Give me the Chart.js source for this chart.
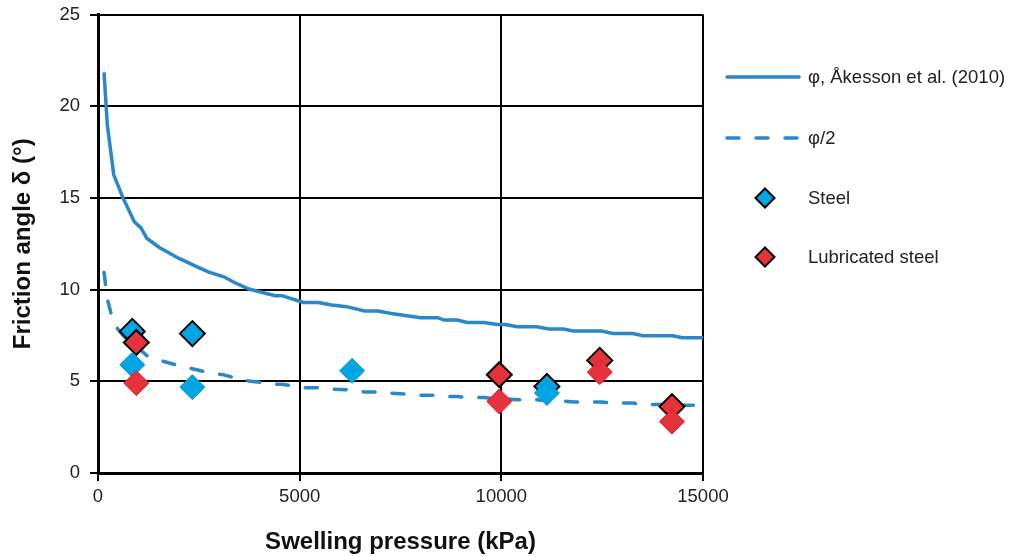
<!DOCTYPE html>
<html>
<head>
<meta charset="utf-8">
<script src="https://cdn.jsdelivr.net/npm/chart.js@4"></script>
<style>
  body { margin: 0; background: #fff; }
  #wrap { position: relative; width: 1010px; height: 557px; }
</style>
</head>
<body>
<div id="wrap"><canvas id="frictionChart"></canvas></div>
<script>
/* -------- DATA -------- */
const pressureCurve = [150, 230, 390, 620, 900, 1070, 1210, 1520, 2010, 2500, 2750, 3120, 3370, 3740,
  4390, 4560, 5090, 5460, 5790, 6160, 6610, 6940, 7270, 8000, 8420, 8580, 8910, 9150, 9570,
  9890, 10100, 10390, 10880, 11170, 11540, 11780, 12480, 12770, 13260, 13510, 14250, 14490, 15000];
const phiValues = [21.85, 19.0, 16.26, 15.0, 13.7, 13.35, 12.8, 12.3, 11.7, 11.2, 10.95, 10.7, 10.4, 10.03,
  9.67, 9.67, 9.3, 9.3, 9.16, 9.07, 8.83, 8.83, 8.7, 8.47, 8.47, 8.34, 8.34, 8.21, 8.21,
  8.1, 8.1, 7.97, 7.97, 7.85, 7.85, 7.74, 7.74, 7.61, 7.61, 7.48, 7.48, 7.37, 7.37];
const phiHalfValues = [10.93, 9.5, 8.13, 7.5, 6.85, 6.68, 6.4, 6.15, 5.85, 5.6, 5.48, 5.35, 5.2, 5.02,
  4.84, 4.84, 4.65, 4.65, 4.58, 4.54, 4.42, 4.42, 4.35, 4.24, 4.24, 4.17, 4.17, 4.11, 4.11,
  4.05, 4.05, 3.99, 3.99, 3.93, 3.93, 3.87, 3.87, 3.81, 3.81, 3.74, 3.74, 3.69, 3.69];

// Steel: outlined markers and plain markers
const steelOutP = [850, 2340, 11130];
const steelOutV = [7.72, 7.6, 4.72];
const steelP = [850, 2340, 6300, 11130];
const steelV = [5.9, 4.68, 5.57, 4.36];
// Lubricated steel
const lubOutP = [950, 9950, 12440, 14230];
const lubOutV = [7.12, 5.36, 6.14, 3.62];
const lubP = [950, 9950, 12440, 14230];
const lubV = [4.9, 3.9, 5.5, 2.8];

const xTicks = [0, 5000, 10000, 15000];
const yTicks = [0, 5, 10, 15, 20, 25];

const seriesLabels = ["φ, Åkesson et al. (2010)", "φ/2", "Steel", "Lubricated steel"];

/* -------- helpers -------- */
const pts = (xs, ys) => xs.map((x, i) => ({x: x, y: ys[i]}));
const BLUE_LINE = "#2a87c9";
const STEEL = "#00a5e3";
const LUB = "#e5323b";
const FONT = "'Liberation Sans', Arial, sans-serif";

/* -------- custom legend drawn to the right -------- */
const sideLegend = {
  id: 'sideLegend',
  afterDraw(chart) {
    const ctx = chart.ctx;
    const rows = [77, 138, 198, 257];
    ctx.save();
    rows.forEach((y, i) => {
      if (i < 2) {
        ctx.strokeStyle = BLUE_LINE;
        ctx.lineWidth = 3.5;
        ctx.lineCap = 'round';
        ctx.setLineDash(i === 1 ? [12, 17] : []);
        ctx.beginPath();
        ctx.moveTo(727, y);
        ctx.lineTo(799, y);
        ctx.stroke();
        ctx.setLineDash([]);
      } else {
        const r = 9.5;
        ctx.beginPath();
        ctx.moveTo(765, y - r);
        ctx.lineTo(765 + r, y);
        ctx.lineTo(765, y + r);
        ctx.lineTo(765 - r, y);
        ctx.closePath();
        ctx.fillStyle = i === 2 ? STEEL : LUB;
        ctx.fill();
        ctx.lineWidth = 2;
        ctx.strokeStyle = "#000";
        ctx.stroke();
      }
      ctx.fillStyle = "#222";
      ctx.font = "18.5px " + FONT;
      ctx.textBaseline = 'middle';
      ctx.textAlign = 'left';
      ctx.fillText(seriesLabels[i], 808, y + 1);
    });
    ctx.restore();
  }
};

const diamond = (fill, border, bw, order, data) => ({
  type: 'scatter',
  data: data,
  pointStyle: 'rectRot',
  pointRadius: 12.5,
  pointHoverRadius: 12.5,
  backgroundColor: fill,
  borderColor: border,
  borderWidth: bw,
  order: order,
  showLine: false
});

new Chart(document.getElementById("frictionChart"), {
  type: 'scatter',
  data: {
    datasets: [
      {
        type: 'line', label: seriesLabels[0], data: pts(pressureCurve, phiValues),
        borderColor: BLUE_LINE, borderWidth: 3.5, pointRadius: 0, tension: 0,
        fill: false, order: 6
      },
      {
        type: 'line', label: seriesLabels[1], data: pts(pressureCurve, phiHalfValues),
        borderColor: BLUE_LINE, borderWidth: 3.5, borderDash: [12, 17], borderCapStyle: 'round',
        pointRadius: 0, tension: 0, fill: false, order: 5
      },
      Object.assign({label: seriesLabels[2]}, diamond(STEEL, "#000", 2, 4, pts(steelOutP, steelOutV))),
      Object.assign({label: seriesLabels[3]}, diamond(LUB, "#000", 2, 3, pts(lubOutP, lubOutV))),
      Object.assign({label: seriesLabels[2]}, diamond(STEEL, "#1592d2", 1, 2, pts(steelP, steelV))),
      Object.assign({label: seriesLabels[3]}, diamond(LUB, "#d81f2a", 1, 1, pts(lubP, lubV)))
    ]
  },
  options: {
    responsive: true,
    maintainAspectRatio: false,
    animation: false,
    layout: { padding: { left: 0, right: 307, top: 14, bottom: 0 } },
    plugins: {
      legend: { display: false },
      tooltip: { enabled: false }
    },
    scales: {
      x: {
        type: 'linear', min: 0, max: 15000,
        afterBuildTicks: s => { s.ticks = xTicks.map(v => ({value: v})); },
        afterFit: s => { s.height = 84; s.paddingLeft = 0; s.paddingRight = 0; },
        ticks: { color: "#222", font: {family: FONT, size: 18.5}, padding: 5, callback: v => String(v), maxRotation: 0 },
        grid: { color: "#000", lineWidth: 2, tickLength: 8, tickColor: "#000", tickWidth: 2 },
        border: { color: "#000", width: 3 },
        title: { display: true, text: "Swelling pressure (kPa)", color: "#111",
                 font: {family: FONT, size: 24, weight: 'bold'}, padding: {top: 0, bottom: 0} }
      },
      y: {
        min: 0, max: 25,
        afterBuildTicks: s => { s.ticks = yTicks.map(v => ({value: v})); },
        afterFit: s => { s.width = 98; s.paddingTop = 0; s.paddingBottom = 0; },
        ticks: { color: "#222", font: {family: FONT, size: 18.5}, padding: 10 },
        grid: { color: "#000", lineWidth: 2, tickLength: 8, tickColor: "#000", tickWidth: 2 },
        border: { color: "#000", width: 3 },
        title: { display: true, text: "Friction angle δ (°)", color: "#111",
                 font: {family: FONT, size: 24, weight: 'bold'}, padding: {top: 9, bottom: 0} }
      }
    }
  },
  plugins: [sideLegend]
});
</script>
</body>
</html>
